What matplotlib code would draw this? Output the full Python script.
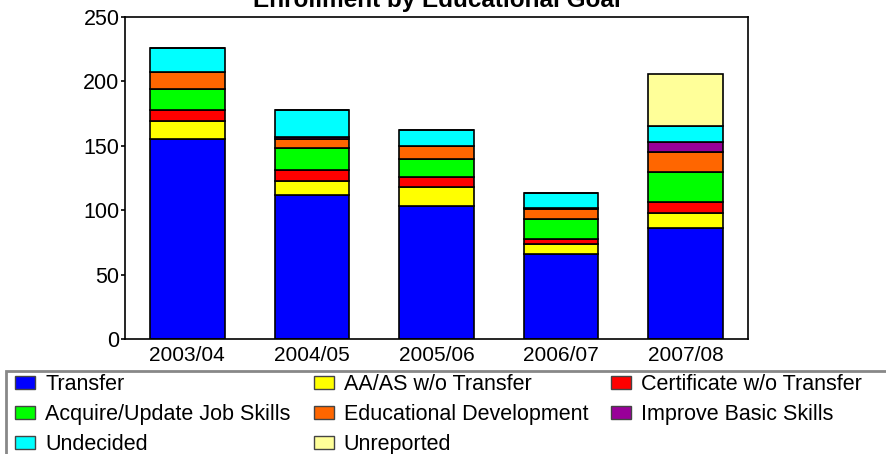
import matplotlib
matplotlib.use("Agg")
import matplotlib.pyplot as plt
from matplotlib.patches import Rectangle, Patch
import numpy as np

plt.rcParams['font.family'] = ['Liberation Sans', 'DejaVu Sans']

years = ["2003/04", "2004/05", "2005/06", "2006/07", "2007/08"]
goals = ["Transfer", "AA/AS w/o Transfer", "Certificate w/o Transfer",
         "Acquire/Update Job Skills", "Educational Development",
         "Improve Basic Skills", "Undecided", "Unreported"]
transfer = [155, 112, 103, 66, 86]
aa_as = [14, 11, 15, 8, 12]
certificate = [9, 8, 8, 4, 8]
job_skills = [16, 17, 14, 15, 24]
educational = [13, 7, 10, 8, 15]
basic_skills = [0, 2, 0, 1, 8]
undecided = [19, 21, 12, 11, 12]
unreported = [0, 0, 0, 0, 41]
series = [transfer, aa_as, certificate, job_skills, educational,
          basic_skills, undecided, unreported]
colors = ["#0000FF", "#FFFF00", "#FF0000", "#00FF00", "#FF6600",
          "#990099", "#00FFFF", "#FFFF99"]

fig = plt.figure(figsize=(8.86, 4.54), dpi=100)
ax = fig.add_axes([125/886, 1-339/454, (748-125)/886, (339-17)/454])

x = np.arange(len(years))
bottom = np.zeros(len(years))
for vals, c, name in zip(series, colors, goals):
    v = np.array(vals, dtype=float)
    ax.bar(x, v, 0.6, bottom=bottom, color=c, edgecolor='black',
           linewidth=1.2, label=name)
    bottom += v

ax.set_xlim(-0.5, 4.5)
ax.set_ylim(0, 250)
ax.set_yticks([0, 50, 100, 150, 200, 250])
ax.set_xticks(x)
ax.set_xticklabels(years)
ax.tick_params(axis='x', length=0, pad=5, labelsize=15)
ax.tick_params(axis='y', length=3, width=1.2, pad=1, labelsize=15.5, direction='out')
for s in ax.spines.values():
    s.set_linewidth(1.2)
ax.set_title("Enrollment by Educational Goal", fontsize=17.5,
             fontweight='bold', pad=7)

# legend frame
fig.patches.append(Rectangle((6/886, -0.1), 1.0, (1-371/454)+0.1,
                             transform=fig.transFigure, fill=False,
                             edgecolor='#888888', linewidth=2))

handles = [Patch(facecolor=c, edgecolor='#444444', linewidth=1) for c in colors]
order = [0, 3, 6, 1, 4, 7, 2, 5]
fig.legend([handles[i] for i in order], [goals[i] for i in order],
           ncol=3, loc='upper left', bbox_to_anchor=(15/886, 1-374/454),
           frameon=False, fontsize=15.5, handlelength=0.93, handleheight=0.56,
           handletextpad=0.47, columnspacing=1.07, labelspacing=0.42,
           borderpad=0, borderaxespad=0)

fig.savefig("out.png", dpi=100)
